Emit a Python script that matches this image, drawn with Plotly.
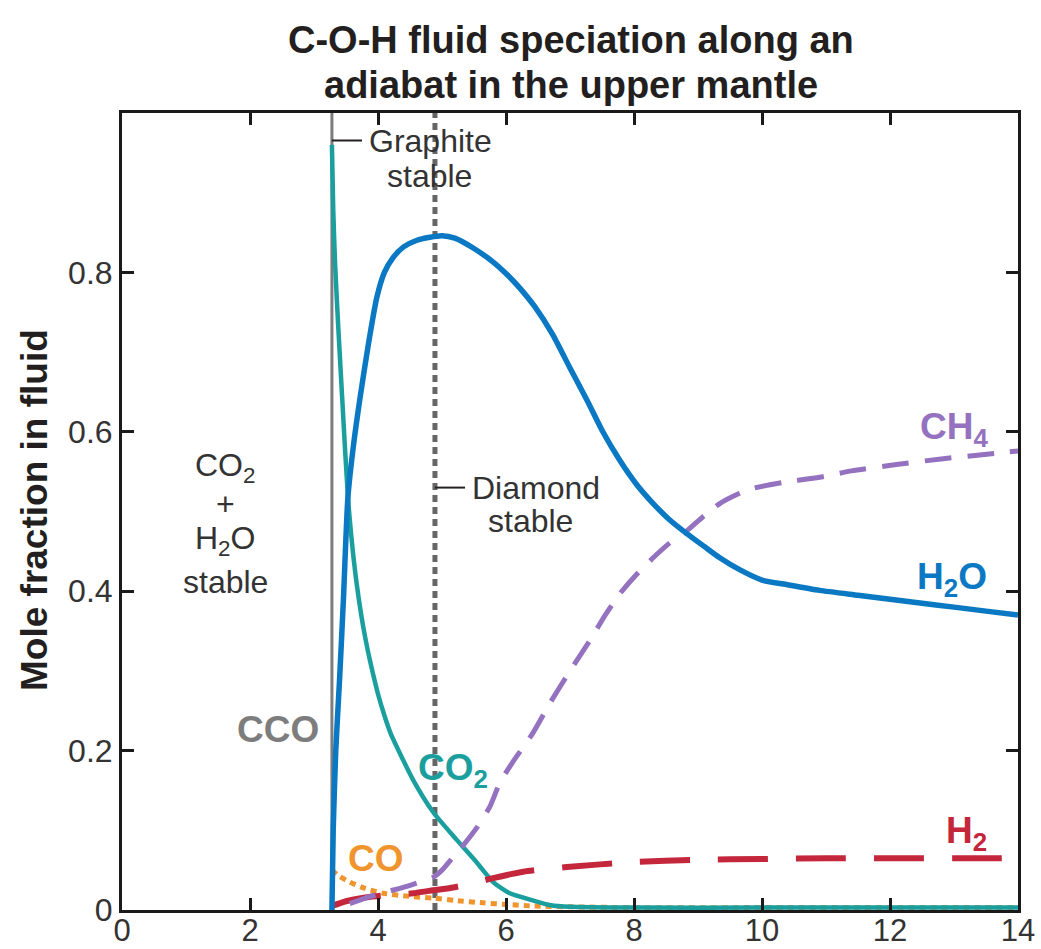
import plotly.graph_objects as go

# Pressure axis (x) and mole fractions of each fluid species along the adiabat
h2o_x = [3.28, 3.30, 3.34, 3.40, 3.46, 3.53, 3.62, 3.72, 3.85, 3.98, 4.10, 4.23, 4.40, 4.60, 4.81,
         5.00, 5.20, 5.50, 5.80, 6.02, 6.22, 6.45, 6.73, 7.00, 7.27, 7.50, 7.78, 8.05, 8.30,
         8.55, 8.83, 9.10, 9.34, 9.65, 10.0, 10.4, 10.9, 11.5, 12.0, 12.5, 13.0, 13.5, 14.0]
h2o_y = [0.0, 0.10, 0.20, 0.29, 0.39, 0.518, 0.585, 0.643, 0.71, 0.768, 0.80, 0.818, 0.832, 0.840, 0.844,
         0.846, 0.843, 0.830, 0.813, 0.797, 0.780, 0.757, 0.722, 0.680, 0.639, 0.602, 0.564, 0.533, 0.510,
         0.490, 0.472, 0.456, 0.442, 0.427, 0.414, 0.408, 0.401, 0.395, 0.390, 0.385, 0.380, 0.375, 0.370]

co2_x = [3.28, 3.30, 3.33, 3.38, 3.44, 3.53, 3.62, 3.70, 3.77, 3.85, 3.92, 4.00, 4.10, 4.20, 4.34,
         4.55, 4.86, 5.23, 5.55, 5.80, 6.06, 6.42, 6.70, 7.0, 8.0, 10.0, 12.0, 14.0]
co2_y = [0.96, 0.88, 0.81, 0.73, 0.643, 0.518, 0.44, 0.39, 0.355, 0.322, 0.297, 0.271, 0.244, 0.221, 0.197,
         0.163, 0.123, 0.088, 0.059, 0.035, 0.021, 0.012, 0.006, 0.004, 0.003, 0.003, 0.003, 0.003]

ch4_x = [3.56, 3.80, 4.10, 4.50, 4.86, 5.00, 5.17, 5.35, 5.55, 5.75, 5.90, 6.10, 6.42, 6.69,
         7.00, 7.31, 7.55, 7.78, 8.05, 8.30, 8.55, 8.83, 9.10, 9.34, 9.60, 9.86, 10.3, 10.9,
         11.4, 12.1, 12.8, 13.4, 14.0]
ch4_y = [0.008, 0.015, 0.022, 0.031, 0.041, 0.050, 0.066, 0.083, 0.104, 0.130, 0.159, 0.185, 0.222, 0.260,
         0.300, 0.338, 0.370, 0.397, 0.422, 0.442, 0.460, 0.476, 0.495, 0.510, 0.521, 0.529, 0.536, 0.543,
         0.551, 0.559, 0.566, 0.571, 0.576]

h2_x = [3.28, 3.50, 3.83, 4.20, 4.55, 4.80, 5.08, 5.40, 5.80, 6.27, 6.95, 7.98, 9.0, 10.0, 11.0, 12.0, 13.0, 14.0]
h2_y = [0.005, 0.011, 0.016, 0.019, 0.021, 0.024, 0.027, 0.032, 0.040, 0.048, 0.054, 0.060, 0.063, 0.064,
        0.065, 0.065, 0.065, 0.065]

co_x = [3.28, 3.40, 3.56, 3.80, 4.08, 4.50, 4.86, 5.20, 5.64, 6.00, 6.42, 7.0, 8.0, 10.0, 12.0, 14.0]
co_y = [0.050, 0.042, 0.035, 0.027, 0.021, 0.017, 0.015, 0.012, 0.009, 0.007, 0.005, 0.004, 0.003, 0.003,
        0.003, 0.003]

# Phase boundaries
cco_x = 3.28        # carbon–CO2–O2 buffer (graphite saturation)
diamond_x = 4.89    # graphite–diamond transition

x_ticks = [0, 2, 4, 6, 8, 10, 12, 14]
y_ticks = [0, 0.2, 0.4, 0.6, 0.8]
y_tick_text = ["0", "0.2", "0.4", "0.6", "0.8"]

C_H2O = "#0a78c2"
C_CO2 = "#1a9e9e"
C_CH4 = "#9472c0"
C_H2 = "#c4263c"
C_CO = "#f0952e"
C_GREY = "#7d7d7d"
TXT = "#231f20"
GREY_TXT = "#333333"
FONT = "Liberation Sans, Arial, sans-serif"

fig = go.Figure()

# boundary lines drawn first so curves sit above them
fig.add_shape(type="line", x0=cco_x, x1=cco_x, y0=0, y1=1, xref="x", yref="y",
              line=dict(color=C_GREY, width=3), layer="below")
fig.add_shape(type="line", x0=diamond_x, x1=diamond_x, y0=0, y1=1, xref="x", yref="y",
              line=dict(color="#666666", width=5, dash="7px,5px"), layer="below")

fig.add_trace(go.Scatter(x=co_x, y=co_y, mode="lines", line_shape="spline",
                         line=dict(color=C_CO, width=5, dash="6px,5px", smoothing=0.6)))
fig.add_trace(go.Scatter(x=co2_x, y=co2_y, mode="lines", line_shape="spline",
                         line=dict(color=C_CO2, width=4.5, smoothing=0.6)))
fig.add_trace(go.Scatter(x=h2_x, y=h2_y, mode="lines", line_shape="spline",
                         line=dict(color=C_H2, width=6, dash="50px,28px", smoothing=0.6)))
fig.add_trace(go.Scatter(x=ch4_x, y=ch4_y, mode="lines", line_shape="spline",
                         line=dict(color=C_CH4, width=5, dash="27px,16px", smoothing=0.6)))
fig.add_trace(go.Scatter(x=h2o_x, y=h2o_y, mode="lines", line_shape="spline",
                         line=dict(color=C_H2O, width=5.5, smoothing=0.6)))

# leader ticks for the stability-field labels
fig.add_shape(type="line", x0=cco_x, x1=cco_x + 0.47, y0=0.9655, y1=0.9655, xref="x", yref="y",
              line=dict(color=TXT, width=2))
fig.add_shape(type="line", x0=diamond_x, x1=diamond_x + 0.47, y0=0.530, y1=0.530, xref="x", yref="y",
              line=dict(color=TXT, width=2))


def label(x, y, text, color, size, bold=False, xanchor="center"):
    if bold:
        text = "<b>" + text + "</b>"
    fig.add_annotation(x=x, y=y, xref="x", yref="y", text=text, showarrow=False,
                       xanchor=xanchor, yanchor="middle",
                       font=dict(family=FONT, size=size, color=color))


# stability-field notes
label(3.83, 0.9655, "Graphite", GREY_TXT, 32, xanchor="left")
label(4.81, 0.921, "stable", GREY_TXT, 32)
label(5.44, 0.530, "Diamond", GREY_TXT, 32, xanchor="left")
label(6.38, 0.488, "stable", GREY_TXT, 32)
label(1.61, 0.555, "CO<sub>2</sub>", GREY_TXT, 32)
label(1.61, 0.510, "+", GREY_TXT, 32)
label(1.61, 0.463, "H<sub>2</sub>O", GREY_TXT, 32)
label(1.61, 0.411, "stable", GREY_TXT, 32)

# species labels
label(2.44, 0.226, "CCO", C_GREY, 37, bold=True)
label(5.17, 0.176, "CO<sub>2</sub>", C_CO2, 37, bold=True)
label(3.97, 0.065, "CO", C_CO, 37, bold=True)
label(13.0, 0.603, "CH<sub>4</sub>", C_CH4, 37, bold=True)
label(12.97, 0.415, "H<sub>2</sub>O", C_H2O, 37, bold=True)
label(13.2, 0.097, "H<sub>2</sub>", C_H2, 37, bold=True)

# chart title, two centred lines above the frame
for txt, yy in [("C-O-H fluid speciation along an", 1.0916),
                ("adiabat in the upper mantle", 1.035)]:
    fig.add_annotation(x=0.501, y=yy, xref="paper", yref="paper", text="<b>" + txt + "</b>",
                       showarrow=False, xanchor="center", yanchor="middle",
                       font=dict(family=FONT, size=38, color=TXT))

# y-axis title
fig.add_annotation(x=-0.097, y=0.502, xref="paper", yref="paper",
                   text="<b>Mole fraction in fluid</b>", textangle=-90, showarrow=False,
                   xanchor="center", yanchor="middle",
                   font=dict(family=FONT, size=37, color=TXT))

fig.update_layout(
    width=1041, height=949,
    margin=dict(l=122, r=23, t=113, b=39, autoexpand=False),
    paper_bgcolor="white", plot_bgcolor="white",
    showlegend=False,
    font=dict(family=FONT, color=TXT),
)
fig.update_xaxes(range=[0, 14], tickvals=x_ticks, ticktext=[str(v) for v in x_ticks],
                 showgrid=False, zeroline=False, automargin=False,
                 showline=True, linecolor="#1a1a1a", linewidth=3, mirror="ticks",
                 ticks="inside", ticklen=12, tickwidth=2.5, tickcolor="#1a1a1a",
                 ticklabelstandoff=-9,
                 tickfont=dict(family=FONT, size=31, color=GREY_TXT))
fig.update_yaxes(range=[0, 1.0], tickvals=y_ticks, ticktext=y_tick_text,
                 showgrid=False, zeroline=False, automargin=False,
                 showline=True, linecolor="#1a1a1a", linewidth=3, mirror="ticks",
                 ticks="inside", ticklen=12, tickwidth=2.5, tickcolor="#1a1a1a",
                 tickfont=dict(family=FONT, size=32, color=GREY_TXT))

fig.write_html("out.html")
